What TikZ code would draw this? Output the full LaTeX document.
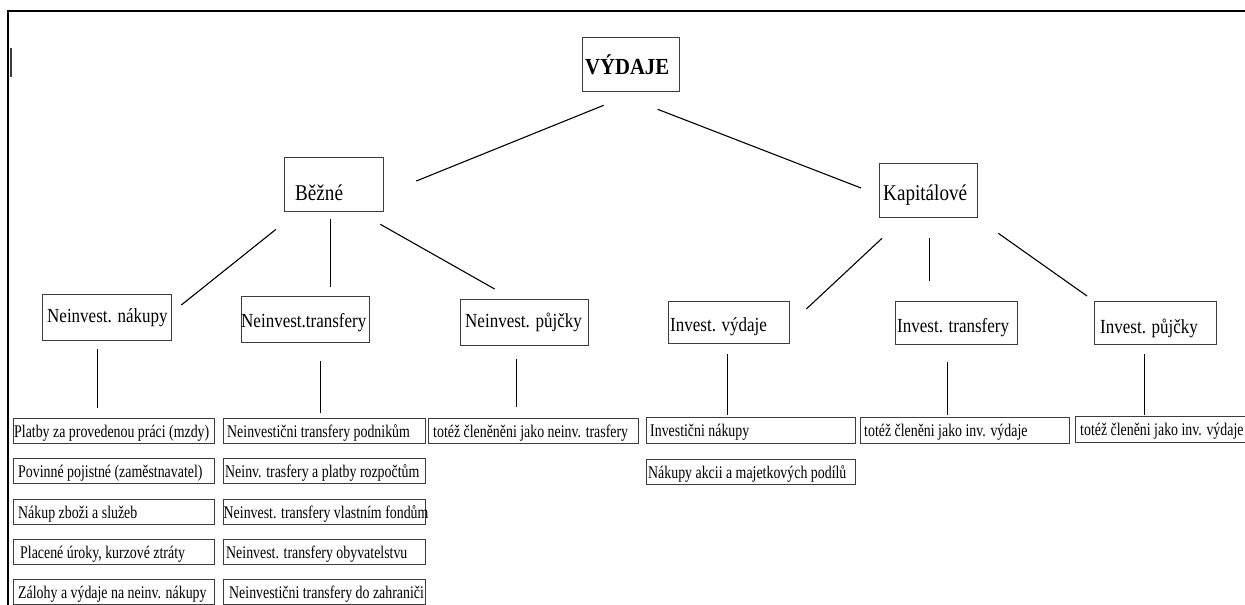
\documentclass[tikz,border=0pt]{standalone}
\usepackage{fontspec}
\setmainfont{Liberation Serif}
\newfontfamily\cond{Liberation Serif}[FakeStretch=0.85]
\newfontfamily\condn{Liberation Serif}[FakeStretch=0.78]
\newfontfamily\condb{Liberation Serif}[FakeStretch=0.9]
\definecolor{boxgray}{RGB}{60,60,60}
\tikzset{
  boxst/.style={draw=boxgray, line width=1.3pt, inner sep=0pt, anchor=north west},
  conn/.style={draw=black, line width=1.1pt},
  tTop/.style={inner sep=0pt, font=\condb\bfseries\fontsize{23}{26}\selectfont},
  tMid/.style={inner sep=0pt, font=\cond\fontsize{22.5}{25}\selectfont},
  tLow/.style={inner sep=0pt, font=\cond\fontsize{20}{22}\selectfont},
  tSmall/.style={inner sep=0pt, font=\condn\fontsize{17.8}{19}\selectfont},
}
% name, x, y, W, H, text pad, baseline offset, text style, text
\newcommand\bxn[9]{%
  \node[boxst, minimum width=#4pt, minimum height=#5pt] (#1) at (#2,#3) {};
  \node[#8, anchor=base west] (#1-t) at ([shift={(#6,#7)}]#1.north west) {#9};}
\begin{document}
\begin{tikzpicture}[x=1pt, y=-1pt]
\useasboundingbox (0,0) rectangle (1245,605);
\clip (0,0) rectangle (1245,605);
\fill[white] (0,0) rectangle (1245,605);
% frame
\draw[line width=2pt, black] (8,606) -- (8,11) -- (1246,11);
\draw[line width=2pt, boxgray] (10.5,48) -- (10.5,77);

% level 1 & 2
\bxn{vydaje}{582}{37}{97}{54}{3}{37}{tTop}{VÝDAJE}
\bxn{bezne}{284}{157}{99}{54}{11}{43}{tMid}{Běžné}
\bxn{kap}{879}{163}{98}{54}{4}{37}{tMid}{Kapitálové}

% level 3
\bxn{nnak}{42}{294}{129}{46}{5}{28}{tLow}{Neinvest. nákupy}
\bxn{ntra}{241}{296}{128}{46}{0}{31}{tLow}{Neinvest.transfery}
\bxn{npuj}{460}{299}{128}{46}{5}{28}{tLow}{Neinvest. půjčky}
\bxn{ivyd}{668}{301}{121}{42}{2}{30}{tLow}{Invest. výdaje}
\bxn{itra}{895}{301}{122}{43}{2}{31}{tLow}{Invest. transfery}
\bxn{ipuj}{1094}{301}{122}{43}{6}{32}{tLow}{Invest. půjčky}

% column 1
\bxn{ca}{13}{418}{201}{25}{1}{19}{tSmall}{Platby za provedenou práci (mzdy)}
\bxn{cb}{13}{458}{201}{25}{5}{19.5}{tSmall}{Povinné pojistné (zaměstnavatel)}
\bxn{cc}{13}{499}{201}{25}{5}{19}{tSmall}{Nákup zboži a služeb}
\bxn{cd}{13}{539}{201}{25}{7}{19}{tSmall}{Placené úroky, kurzové ztráty}
\bxn{ce}{13}{579}{201}{25}{5}{19}{tSmall}{Zálohy a výdaje na neinv. nákupy}
% column 2
\bxn{da}{223}{418}{202}{25}{4}{19}{tSmall}{Neinvestični transfery podnikům}
\bxn{db}{223}{458}{202}{25}{2}{19.5}{tSmall}{Neinv. trasfery a platby rozpočtům}
\bxn{dc}{223}{499}{202}{25}{0.5}{19}{tSmall}{Neinvest. transfery vlastním fondům}
\bxn{dd}{223}{539}{202}{25}{3}{19}{tSmall}{Neinvest. transfery obyvatelstvu}
\bxn{de}{223}{579}{202}{25}{6}{19}{tSmall}{Neinvestični transfery do zahraniči}
% column 3
\bxn{ea}{428}{418}{210}{25}{5}{19}{tSmall}{totéž členěněni jako neinv. trasfery}
% column 4
\bxn{fa}{646}{417}{209}{26}{4}{19}{tSmall}{Investični nákupy}
\bxn{fb}{646}{459}{209}{25}{2}{19}{tSmall}{Nákupy akcii a majetkových podílů}
% column 5
\bxn{ga}{860}{417}{209}{26}{4}{19}{tSmall}{totéž členěni jako inv. výdaje}
% column 6
\bxn{ha}{1075}{416}{180}{26}{5}{19}{tSmall}{totéž členěni jako inv. výdaje}

% connectors
\draw[conn] ([shift={(-27.5,13)}]vydaje.south) -- ([shift={(32,24)}]bezne.north east);
\draw[conn] ([shift={(26.5,17)}]vydaje.south) -- ([shift={(-18,25)}]kap.north west);

\draw[conn] ([shift={(-8,17)}]bezne.south west) -- ([shift={(9,11)}]nnak.north east);
\draw[conn] ([shift={(-3.5,7)}]bezne.south) -- ([shift={(25,-9)}]ntra.north);
\draw[conn] ([shift={(-4,12)}]bezne.south east) -- ([shift={(-30,-10)}]npuj.north);

\draw[conn] ([shift={(3,20)}]kap.south west) -- ([shift={(16,8)}]ivyd.north east);
\draw[conn] ([shift={(1,20)}]kap.south) -- ([shift={(-27,-20)}]itra.north);
\draw[conn] ([shift={(20,15)}]kap.south east) -- ([shift={(-7,-5)}]ipuj.north west);

\draw[conn] ([shift={(-9.5,8)}]nnak.south) -- ([shift={(-16.5,-10)}]ca.north);
\draw[conn] ([shift={(15,18)}]ntra.south) -- ([shift={(-4,-5)}]da.north);
\draw[conn] ([shift={(-8,13)}]npuj.south) -- ([shift={(-17,-11)}]ea.north);
\draw[conn] ([shift={(-1.5,10)}]ivyd.south) -- ([shift={(-23.5,-2)}]fa.north);
\draw[conn] ([shift={(-9,17)}]itra.south) -- ([shift={(-17.5,-2)}]ga.north);
\draw[conn] ([shift={(-11,9)}]ipuj.south) -- ([shift={(-21,-1)}]ha.north);
\end{tikzpicture}
\end{document}
